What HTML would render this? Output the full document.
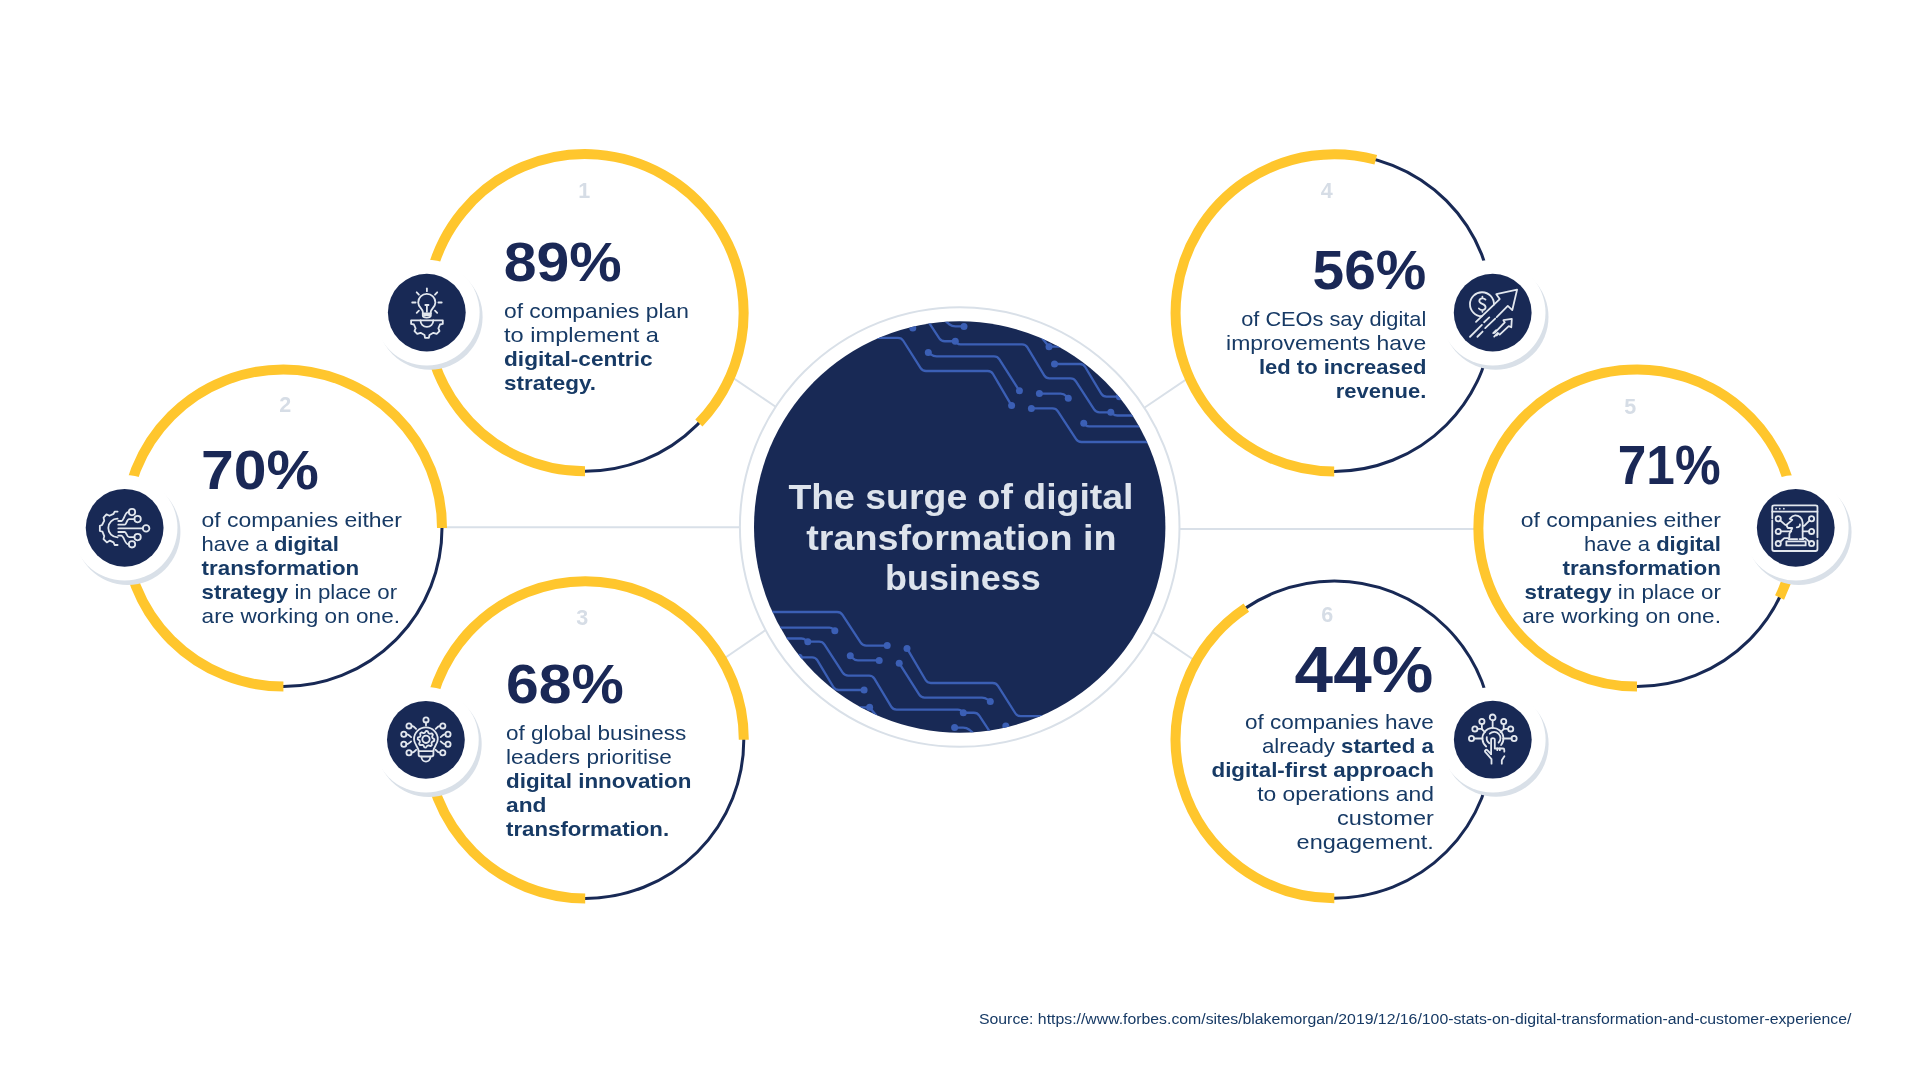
<!DOCTYPE html>
<html><head><meta charset="utf-8"><style>
html,body{margin:0;padding:0;background:#fff;width:1920px;height:1080px;overflow:hidden}
svg{display:block;font-family:"Liberation Sans",sans-serif;will-change:transform}
</style></head><body>
<svg width="1920" height="1080" viewBox="0 0 1920 1080">
<line x1="731" y1="376.5" x2="776" y2="407" stroke="#d9e0e8" stroke-width="2"/>
<line x1="440" y1="527.2" x2="741" y2="527.2" stroke="#d9e0e8" stroke-width="2"/>
<line x1="723" y1="659.3" x2="766" y2="629.8" stroke="#d9e0e8" stroke-width="2"/>
<line x1="1144" y1="408" x2="1189" y2="377.5" stroke="#d9e0e8" stroke-width="2"/>
<line x1="1179" y1="528.9" x2="1480" y2="528.9" stroke="#d9e0e8" stroke-width="2"/>
<line x1="1152" y1="631.7" x2="1195.5" y2="661" stroke="#d9e0e8" stroke-width="2"/>
<circle cx="959.7" cy="527" r="219.8" fill="#fff" stroke="#d9e0e8" stroke-width="2"/>
<circle cx="959.7" cy="527" r="205.7" fill="#182955"/>
<defs><clipPath id="cc"><circle cx="959.7" cy="527" r="205.7"/></clipPath></defs><g clip-path="url(#cc)"><g id="circ" fill="none" stroke="#3b5fb5" stroke-width="2.3" stroke-linejoin="round"><path d="M860.00 337.80 L897.90 337.80 Q901.40 337.80 903.28 340.75 L920.62 368.05 Q922.50 371.00 926.00 371.00 L987.75 371.00 Q991.25 371.00 993.02 374.02 L1011.60 405.60"/><path d="M928.30 352.50 L930.85 354.45 Q933.40 356.40 936.61 356.40 L994.00 356.40 Q997.50 356.40 999.38 359.35 L1019.40 390.80"/><path d="M920.00 309.00 L939.32 338.33 Q941.25 341.25 944.75 341.25 L953.09 341.25 Q955.30 341.25 956.85 342.82 L956.85 342.82 Q958.40 344.40 960.61 344.40 L1022.10 344.40 Q1025.60 344.40 1027.40 347.40 L1044.20 375.40 Q1046.00 378.40 1049.50 378.40 L1070.50 378.40 Q1074.00 378.40 1075.91 381.34 L1094.09 409.36 Q1096.00 412.30 1099.50 412.30 L1108.28 412.30 Q1110.80 412.30 1112.75 413.90 L1112.75 413.90 Q1114.70 415.50 1117.22 415.50 L1170.00 415.50"/><path d="M940.00 315.00 L943.67 319.09 Q946.00 321.70 948.76 323.86 L949.24 324.24 Q952.00 326.40 955.50 326.40 L964.00 326.40"/><path d="M1035.00 330.00 L1041.72 337.84 Q1044.00 340.50 1046.20 343.22 L1046.80 343.98 Q1049.00 346.70 1052.50 346.70 L1075.00 346.70"/><path d="M1054.50 364.00 L1079.90 364.00 Q1083.40 364.00 1085.20 367.00 L1101.20 393.70 Q1103.00 396.70 1106.50 396.70 L1115.90 396.70 Q1119.40 396.70 1122.90 396.70 L1170.00 396.70"/><path d="M1039.40 393.60 L1060.68 393.60 Q1063.90 393.60 1066.10 395.95 L1068.30 398.30"/><path d="M1031.40 408.40 L1052.50 408.40 Q1056.00 408.40 1057.92 411.33 L1076.08 439.07 Q1078.00 442.00 1081.50 442.00 L1170.00 442.00"/><path d="M1083.75 423.30 L1085.38 424.85 Q1087.00 426.40 1089.25 426.40 L1170.00 426.40"/></g><g id="circd" fill="#3b5fb5"><circle cx="1011.6" cy="405.6" r="3.5"/><circle cx="928.3" cy="352.5" r="3.5"/><circle cx="1019.4" cy="390.8" r="3.5"/><circle cx="955.3" cy="341.25" r="3.5"/><circle cx="1110.8" cy="412.3" r="3.5"/><circle cx="964" cy="326.4" r="3.5"/><circle cx="912.8" cy="328" r="3.5"/><circle cx="1049" cy="346.7" r="3.5"/><circle cx="1054.5" cy="364" r="3.5"/><circle cx="1119.4" cy="396.7" r="3.5"/><circle cx="1039.4" cy="393.6" r="3.5"/><circle cx="1068.3" cy="398.3" r="3.5"/><circle cx="1031.4" cy="408.4" r="3.5"/><circle cx="1083.75" cy="423.3" r="3.5"/></g><use href="#circ" transform="rotate(180 959.3 527)"/><use href="#circd" transform="rotate(180 959.3 527)"/></g>
<circle cx="585.0" cy="312.7" r="158.6" fill="#fff" stroke="#182955" stroke-width="3"/>
<path d="M585.00 471.30 A158.6 158.6 0 1 1 698.89 423.07" fill="none" stroke="#ffc62d" stroke-width="10"/>
<circle cx="283.4" cy="528.0" r="158.6" fill="#fff" stroke="#182955" stroke-width="3"/>
<path d="M283.40 686.60 A158.6 158.6 0 1 1 442.00 528.00" fill="none" stroke="#ffc62d" stroke-width="10"/>
<circle cx="585.2" cy="739.8" r="158.6" fill="#fff" stroke="#182955" stroke-width="3"/>
<path d="M585.20 898.40 A158.6 158.6 0 1 1 743.80 739.80" fill="none" stroke="#ffc62d" stroke-width="10"/>
<circle cx="1334.2" cy="312.8" r="158.6" fill="#fff" stroke="#182955" stroke-width="3"/>
<path d="M1334.20 471.40 A158.6 158.6 0 1 1 1375.78 159.75" fill="none" stroke="#ffc62d" stroke-width="10"/>
<circle cx="1637.0" cy="528.0" r="158.6" fill="#fff" stroke="#182955" stroke-width="3"/>
<path d="M1637.00 686.60 A158.6 158.6 0 1 1 1779.55 597.53" fill="none" stroke="#ffc62d" stroke-width="10"/>
<circle cx="1334.3" cy="739.6" r="158.6" fill="#fff" stroke="#182955" stroke-width="3"/>
<path d="M1334.30 898.20 A158.6 158.6 0 0 1 1246.30 607.65" fill="none" stroke="#ffc62d" stroke-width="10"/>
<circle cx="429.80" cy="316.90" r="52.8" fill="#d9e0e8"/>
<circle cx="426.80" cy="312.60" r="52.8" fill="#fff"/>
<circle cx="426.80" cy="312.60" r="38.9" fill="#182955"/>
<g transform="translate(426.80 312.60)" fill="none" stroke="#e2e7ee" stroke-width="1.8" stroke-linecap="round" stroke-linejoin="round"><path d="M0.1 -24.2 V-21.4"/><path d="M-10.1 -20.3 L-7.9 -17.9"/><path d="M10.4 -20.3 L8.2 -17.9"/><path d="M-14.6 -10.1 H-11.2"/><path d="M11.6 -10.1 H14.9"/><path d="M-10.1 0.2 L-7.9 -2"/><path d="M10.4 0.2 L8.2 -2"/><path d="M-4 -0.8 C-4 -3.5 -8.6 -5.5 -8.6 -10.2 A8.6 8.6 0 1 1 8.6 -10.2 C8.6 -5.5 4 -3.5 4 -0.8 V3.2 C4 5.5 -4 5.5 -4 3.2 Z"/><path d="M-4 0.8 H4"/><path d="M-3 2.4 H3"/><path d="M0.1 -0.8 V-7.6 M-1.5 -7.6 H1.7"/><path d="M-15.7 7.7 V11.3 L-12.9 11.9 L-11.2 15.8 L-12.3 18.6 L-9.6 21.3 L-6.2 20.2 L-2.3 22.4 L-1.8 25.2 H2.1 L2.7 22.4 L6.6 20.2 L9.9 21.3 L12.7 18.6 L11.6 15.8 L13.2 11.9 L16 11.3 V7.7 Z"/><path d="M-6.3 7.9 A6.4 6.4 0 0 0 6.5 7.9"/></g>
<circle cx="127.65" cy="532.10" r="52.8" fill="#d9e0e8"/>
<circle cx="124.65" cy="527.80" r="52.8" fill="#fff"/>
<circle cx="124.65" cy="527.80" r="38.9" fill="#182955"/>
<g transform="translate(124.65 527.80)" fill="none" stroke="#e2e7ee" stroke-width="1.8" stroke-linecap="round" stroke-linejoin="round"><path d="M-7.05 -16.2 H-10 L-11.1 -13.9 L-15.2 -12 L-18.2 -13.5 L-21.1 -10.2 L-20.4 -7.2 L-22.6 -2.8 L-24.8 -2 V3.2 L-22.2 3.9 L-20.4 8.3 L-21.1 11.3 L-17.8 14.6 L-14.8 12.8 L-11.1 14.6 L-10 17.2 H-7.05"/><path d="M-7.05 -9.1 A9.3 9.3 0 0 0 -7.05 9.5"/><path d="M-6.35 0.6 H18.1"/><path d="M-6.35 -3.1 H0 C2 -3.1 2 -8.7 4.5 -8.7 H9.7"/><path d="M-6.35 -6.8 H-3.5 C-0.5 -6.8 0 -15.7 3.5 -15.7 H4.1"/><path d="M-6.35 4.2 H0 C2 4.2 2 9.3 4.5 9.3 H9.7"/><path d="M-6.35 7.9 H-3.5 C-0.5 7.9 0 16.5 3.5 16.5 H4.1"/><circle cx="21.45" cy="0.6" r="3.3"/><circle cx="12.95" cy="-8.7" r="3.2"/><circle cx="7.35" cy="-15.7" r="3.2"/><circle cx="12.95" cy="9.3" r="3.2"/><circle cx="7.35" cy="16.5" r="3.2"/></g>
<circle cx="428.90" cy="744.10" r="52.8" fill="#d9e0e8"/>
<circle cx="425.90" cy="739.80" r="52.8" fill="#fff"/>
<circle cx="425.90" cy="739.80" r="38.9" fill="#182955"/>
<g transform="translate(425.90 739.80)" fill="none" stroke="#e2e7ee" stroke-width="1.8" stroke-linecap="round" stroke-linejoin="round"><path d="M-7.3 11.3 C-7.3 7 -11.9 4.5 -11.9 -0.5 A11.9 11.9 0 1 1 11.9 -0.5 C11.9 4.5 7.5 7 7.5 11.3"/><path d="M-7.3 11.3 H7.5 V15 C7.5 16.3 6.5 16.7 5 16.7 H-5 C-6.5 16.7 -7.3 16.3 -7.3 15 Z"/><path d="M-4.4 16.9 C-4.4 23.5 4.5 23.5 4.5 16.9"/><path d="M8.40 -0.50 L8.24 1.12 L6.20 2.03 L5.59 3.17 L5.97 5.37 L4.71 6.40 L2.63 5.60 L1.39 5.97 L0.10 7.80 L-1.52 7.64 L-2.43 5.60 L-3.57 4.99 L-5.77 5.37 L-6.80 4.11 L-6.00 2.03 L-6.37 0.79 L-8.20 -0.50 L-8.04 -2.12 L-6.00 -3.03 L-5.39 -4.17 L-5.77 -6.37 L-4.51 -7.40 L-2.43 -6.60 L-1.19 -6.97 L0.10 -8.80 L1.72 -8.64 L2.63 -6.60 L3.77 -5.99 L5.97 -6.37 L7.00 -5.11 L6.20 -3.03 L6.57 -1.79 Z"/><path d="M0.1 -14.3 V-17.3"/><path d="M-14.3 -13.9 C-12.5 -13.9 -11.5 -13 -9.8 -11"/><path d="M-19.5 -5.6 C-17.5 -5.6 -16.5 -4.5 -14.8 -2.7"/><path d="M-19.5 4.5 C-17.5 4.5 -16.5 3.2 -14.8 1.6"/><path d="M-14.3 12.9 C-12.5 12.9 -11.5 12 -9.8 10"/><path d="M14.3 -13.9 C12.5 -13.9 11.5 -13 9.8 -11"/><path d="M19.5 -5.6 C17.5 -5.6 16.5 -4.5 14.8 -2.7"/><path d="M19.5 4.5 C17.5 4.5 16.5 3.2 14.8 1.6"/><path d="M14.3 12.9 C12.5 12.9 11.5 12 9.8 10"/><circle cx="0.1" cy="-0.5" r="3.7"/><circle cx="0.1" cy="-19.9" r="2.6"/><circle cx="-16.9" cy="-13.9" r="2.6"/><circle cx="-22.1" cy="-5.6" r="2.6"/><circle cx="-22.1" cy="4.5" r="2.6"/><circle cx="-16.9" cy="12.9" r="2.6"/><circle cx="16.9" cy="-13.9" r="2.6"/><circle cx="22.1" cy="-5.6" r="2.6"/><circle cx="22.1" cy="4.5" r="2.6"/><circle cx="16.9" cy="12.9" r="2.6"/></g>
<circle cx="1495.70" cy="316.95" r="52.8" fill="#d9e0e8"/>
<circle cx="1492.70" cy="312.65" r="52.8" fill="#fff"/>
<circle cx="1492.70" cy="312.65" r="38.9" fill="#182955"/>
<g transform="translate(1492.70 312.65)" fill="none" stroke="#e2e7ee" stroke-width="1.8" stroke-linecap="round" stroke-linejoin="round"><path d="M1.26 -8.09 A12 12 0 1 0 -10.88 3.59"/><path d="M-7.2 -13 C-8 -14 -9 -14.2 -10.3 -14.2 C-12.2 -14.2 -13.4 -13.1 -13.4 -11.6 C-13.4 -8.2 -7.1 -9.2 -7.1 -5.3 C-7.1 -3.6 -8.4 -2.6 -10.3 -2.6 C-11.8 -2.6 -12.9 -3.1 -13.8 -4.2 M-10.3 -16 V-14.2 M-10.3 -2.6 V-0.8"/><path d="M-16.7 9.2 L7 -13.6 L3.6 -18.5 L24.4 -23 L19.6 -2.6 L15.1 -6.7 L4 4.4"/><path d="M-22.7 24.1 L-10.8 12.2"/><path d="M-15.3 24.1 L-10.1 18.9"/><path d="M-7.5 15.5 L2.5 5.9"/><path d="M-8.6 9.6 L-3.4 4.8"/><path d="M1.9 20.2 L12.1 9.75 L10.7 7.55 L19.1 6.3 L18.6 14.6 L16.05 13.5 L7 22"/><path d="M1.5 23.9 L4.9 20.4"/><path d="M0.5 20.5 L3.5 17.5"/><path d="M4 22.8 L6 20.8"/></g>
<circle cx="1798.75" cy="532.10" r="52.8" fill="#d9e0e8"/>
<circle cx="1795.75" cy="527.80" r="52.8" fill="#fff"/>
<circle cx="1795.75" cy="527.80" r="38.9" fill="#182955"/>
<g transform="translate(1795.75 527.80)" fill="none" stroke="#e2e7ee" stroke-width="1.8" stroke-linecap="round" stroke-linejoin="round"><path d="M-23.5 -9.5 V-20.9 C-23.5 -22 -22.6 -22.4 -21.5 -22.4 H19.7 C20.8 -22.4 21.7 -22 21.7 -20.9 V9.5"/><path d="M21.7 12.5 V21.2 C21.7 22.3 20.8 23.2 19.7 23.2 H-21.5 C-22.6 23.2 -23.5 22.3 -23.5 21.2 V-7.5"/><path d="M-23.5 -16.1 H21.7"/><path d="M-6.4 9.8 V6.1 L-3.45 0.2 H-7.9 L-9.4 -2.8 L-3.45 -7.95 L-6.05 -9.06 C-4 -11.5 -2.5 -12.4 -0.5 -12.4 C3 -12.4 6.9 -10 6.9 -5 V9.8"/><path d="M4.2 -3.5 C4.5 -1.5 3 -0.5 1 -0.5"/><path d="M-7.2 11.3 H1.5 M3.8 11.3 H7.7"/><path d="M-9.4 13.5 H9.9 V17.6 H-9.4 Z"/><path d="M-15.6 -7.5 L-10.5 -3 L-8.8 -3"/><path d="M-14.9 3.6 H-4.5"/><path d="M-15.6 14.2 L-11.5 10.3 H-7.2"/><path d="M13.9 -7.5 L8.5 -2 H7"/><path d="M13.2 3.6 H7"/><path d="M13.9 14.2 L9.5 10.3 H7"/><circle cx="-17.5" cy="-9.1" r="2.6"/><circle cx="-17.5" cy="3.6" r="2.6"/><circle cx="-17.5" cy="15.8" r="2.6"/><circle cx="15.8" cy="-9.1" r="2.6"/><circle cx="15.8" cy="3.6" r="2.6"/><circle cx="15.8" cy="15.8" r="2.6"/><g fill="#e2e7ee" stroke="none"><circle cx="-19.7" cy="-19.1" r="0.9"/><circle cx="-16" cy="-19.1" r="0.9"/><circle cx="-11.9" cy="-19.1" r="0.9"/></g></g>
<circle cx="1495.80" cy="744.00" r="52.8" fill="#d9e0e8"/>
<circle cx="1492.80" cy="739.70" r="52.8" fill="#fff"/>
<circle cx="1492.80" cy="739.70" r="38.9" fill="#182955"/>
<g transform="translate(1492.80 739.70)" fill="none" stroke="#e2e7ee" stroke-width="1.8" stroke-linecap="round" stroke-linejoin="round"><path d="M-6.6 6.8 A10.5 10.5 0 1 1 8.3 5.3"/><path d="M-3 -6 A6.1 6.1 0 0 1 5.8 3"/><path d="M-6 -2.5 A6.1 6.1 0 0 0 -3.5 3.5"/><path d="M-1.7 14.5 V-0.2 C-1.7 -2 2 -2 2 -0.2 V8.8 H10.3 C11 8.8 11.5 9.5 11.5 10.3 V12"/><path d="M4.5 8.8 V10.5 M7 8.8 V10.5"/><path d="M-1.7 14.5 L-5.5 10.5 C-6.5 9.5 -8.3 10.5 -7.8 12 L-1.3 19.5 V24"/><path d="M11.6 16.5 L9 20.5 V24"/><path d="M-0.15 -19.5 V-11.8"/><path d="M-10.9 -15.6 V-10.5 L-7.8 -7.5"/><path d="M-15.3 -10.8 H-10.9"/><path d="M-18.8 -1.2 H-10.4"/><path d="M10.9 -15.6 V-10.5 L7.8 -7.5"/><path d="M15.3 -10.8 H10.9"/><path d="M18.8 -1.2 H10.4"/><circle cx="-0.15" cy="-22.3" r="2.9"/><circle cx="-10.9" cy="-18.2" r="2.6"/><circle cx="-17.9" cy="-10.8" r="2.6"/><circle cx="-21.3" cy="-1.2" r="2.6"/><circle cx="10.9" cy="-18.2" r="2.6"/><circle cx="17.9" cy="-10.8" r="2.6"/><circle cx="21.3" cy="-1.2" r="2.6"/></g>
<text x="584.3" y="197.8" font-size="21.5" text-anchor="middle" font-weight="bold" fill="#d6dde6">1</text>
<text x="285.3" y="411.7" font-size="21.5" text-anchor="middle" font-weight="bold" fill="#d6dde6">2</text>
<text x="582.3" y="624.8" font-size="21.5" text-anchor="middle" font-weight="bold" fill="#d6dde6">3</text>
<text x="1326.8" y="197.8" font-size="21.5" text-anchor="middle" font-weight="bold" fill="#d6dde6">4</text>
<text x="1630.3" y="413.9" font-size="21.5" text-anchor="middle" font-weight="bold" fill="#d6dde6">5</text>
<text x="1327.3" y="621.9" font-size="21.5" text-anchor="middle" font-weight="bold" fill="#d6dde6">6</text>
<text x="503.7" y="281.0" font-size="55.3" text-anchor="start" font-weight="bold" fill="#1a2856" textLength="118.0" lengthAdjust="spacingAndGlyphs">89%</text>
<text x="201.1" y="489.2" font-size="54.6" text-anchor="start" font-weight="bold" fill="#1a2856" textLength="117.8" lengthAdjust="spacingAndGlyphs">70%</text>
<text x="506.1" y="703.1" font-size="55.3" text-anchor="start" font-weight="bold" fill="#1a2856" textLength="117.8" lengthAdjust="spacingAndGlyphs">68%</text>
<text x="1312.6" y="288.8" font-size="55.3" text-anchor="start" font-weight="bold" fill="#1a2856" textLength="113.7" lengthAdjust="spacingAndGlyphs">56%</text>
<text x="1617.8" y="483.9" font-size="54.6" text-anchor="start" font-weight="bold" fill="#1a2856" textLength="102.8" lengthAdjust="spacingAndGlyphs">71%</text>
<text x="1294.6" y="692.0" font-size="64.2" text-anchor="start" font-weight="bold" fill="#1a2856" textLength="138.7" lengthAdjust="spacingAndGlyphs">44%</text>
<text x="504" y="317.9" font-size="20.6" text-anchor="start" font-weight="normal" fill="#173a65" textLength="184.9" lengthAdjust="spacingAndGlyphs">of companies plan</text>
<text x="504" y="341.9" font-size="20.6" text-anchor="start" font-weight="normal" fill="#173a65" textLength="154.9" lengthAdjust="spacingAndGlyphs">to implement a</text>
<text x="504" y="365.9" font-size="20.6" text-anchor="start" font-weight="normal" fill="#173a65" textLength="148.6" lengthAdjust="spacingAndGlyphs"><tspan font-weight="bold">digital-centric</tspan></text>
<text x="504" y="389.9" font-size="20.6" text-anchor="start" font-weight="normal" fill="#173a65" textLength="92.0" lengthAdjust="spacingAndGlyphs"><tspan font-weight="bold">strategy.</tspan></text>
<text x="201.6" y="527.4" font-size="20.6" text-anchor="start" font-weight="normal" fill="#173a65" textLength="200.4" lengthAdjust="spacingAndGlyphs">of companies either</text>
<text x="201.6" y="551.4" font-size="20.6" text-anchor="start" font-weight="normal" fill="#173a65" textLength="137.2" lengthAdjust="spacingAndGlyphs">have a <tspan font-weight="bold">digital</tspan></text>
<text x="201.6" y="575.4" font-size="20.6" text-anchor="start" font-weight="normal" fill="#173a65" textLength="157.6" lengthAdjust="spacingAndGlyphs"><tspan font-weight="bold">transformation</tspan></text>
<text x="201.6" y="599.4" font-size="20.6" text-anchor="start" font-weight="normal" fill="#173a65" textLength="195.5" lengthAdjust="spacingAndGlyphs"><tspan font-weight="bold">strategy</tspan> in place or</text>
<text x="201.6" y="623.4" font-size="20.6" text-anchor="start" font-weight="normal" fill="#173a65" textLength="198.4" lengthAdjust="spacingAndGlyphs">are working on one.</text>
<text x="506" y="739.8" font-size="20.6" text-anchor="start" font-weight="normal" fill="#173a65" textLength="180.4" lengthAdjust="spacingAndGlyphs">of global business</text>
<text x="506" y="763.8" font-size="20.6" text-anchor="start" font-weight="normal" fill="#173a65" textLength="165.9" lengthAdjust="spacingAndGlyphs">leaders prioritise</text>
<text x="506" y="787.8" font-size="20.6" text-anchor="start" font-weight="normal" fill="#173a65" textLength="185.4" lengthAdjust="spacingAndGlyphs"><tspan font-weight="bold">digital innovation</tspan></text>
<text x="506" y="811.8" font-size="20.6" text-anchor="start" font-weight="normal" fill="#173a65" textLength="40.4" lengthAdjust="spacingAndGlyphs"><tspan font-weight="bold">and</tspan></text>
<text x="506" y="835.8" font-size="20.6" text-anchor="start" font-weight="normal" fill="#173a65" textLength="163.1" lengthAdjust="spacingAndGlyphs"><tspan font-weight="bold">transformation.</tspan></text>
<text x="1426.3" y="326.0" font-size="20.6" text-anchor="end" font-weight="normal" fill="#173a65" textLength="185.1" lengthAdjust="spacingAndGlyphs">of CEOs say digital</text>
<text x="1426.3" y="350.0" font-size="20.6" text-anchor="end" font-weight="normal" fill="#173a65" textLength="200.2" lengthAdjust="spacingAndGlyphs">improvements have</text>
<text x="1426.3" y="374.0" font-size="20.6" text-anchor="end" font-weight="normal" fill="#173a65" textLength="167.3" lengthAdjust="spacingAndGlyphs"><tspan font-weight="bold">led to increased</tspan></text>
<text x="1426.3" y="398.0" font-size="20.6" text-anchor="end" font-weight="normal" fill="#173a65" textLength="90.5" lengthAdjust="spacingAndGlyphs"><tspan font-weight="bold">revenue.</tspan></text>
<text x="1721" y="526.7" font-size="20.6" text-anchor="end" font-weight="normal" fill="#173a65" textLength="200.3" lengthAdjust="spacingAndGlyphs">of companies either</text>
<text x="1721" y="550.7" font-size="20.6" text-anchor="end" font-weight="normal" fill="#173a65" textLength="137.1" lengthAdjust="spacingAndGlyphs">have a <tspan font-weight="bold">digital</tspan></text>
<text x="1721" y="574.7" font-size="20.6" text-anchor="end" font-weight="normal" fill="#173a65" textLength="158.5" lengthAdjust="spacingAndGlyphs"><tspan font-weight="bold">transformation</tspan></text>
<text x="1721" y="598.7" font-size="20.6" text-anchor="end" font-weight="normal" fill="#173a65" textLength="196.4" lengthAdjust="spacingAndGlyphs"><tspan font-weight="bold">strategy</tspan> in place or</text>
<text x="1721" y="622.7" font-size="20.6" text-anchor="end" font-weight="normal" fill="#173a65" textLength="198.8" lengthAdjust="spacingAndGlyphs">are working on one.</text>
<text x="1433.9" y="728.7" font-size="20.6" text-anchor="end" font-weight="normal" fill="#173a65" textLength="189.0" lengthAdjust="spacingAndGlyphs">of companies have</text>
<text x="1433.9" y="752.7" font-size="20.6" text-anchor="end" font-weight="normal" fill="#173a65" textLength="172.0" lengthAdjust="spacingAndGlyphs">already <tspan font-weight="bold">started a</tspan></text>
<text x="1433.9" y="776.7" font-size="20.6" text-anchor="end" font-weight="normal" fill="#173a65" textLength="222.4" lengthAdjust="spacingAndGlyphs"><tspan font-weight="bold">digital-first approach</tspan></text>
<text x="1433.9" y="800.7" font-size="20.6" text-anchor="end" font-weight="normal" fill="#173a65" textLength="176.7" lengthAdjust="spacingAndGlyphs">to operations and</text>
<text x="1433.9" y="824.7" font-size="20.6" text-anchor="end" font-weight="normal" fill="#173a65" textLength="96.8" lengthAdjust="spacingAndGlyphs">customer</text>
<text x="1433.9" y="848.7" font-size="20.6" text-anchor="end" font-weight="normal" fill="#173a65" textLength="137.3" lengthAdjust="spacingAndGlyphs">engagement.</text>
<text x="788.4" y="509.4" font-size="35.3" text-anchor="start" font-weight="bold" fill="#dde3ec" textLength="345.1" lengthAdjust="spacingAndGlyphs">The surge of digital</text>
<text x="806.2" y="549.7" font-size="35.3" text-anchor="start" font-weight="bold" fill="#dde3ec" textLength="310.4" lengthAdjust="spacingAndGlyphs">transformation in</text>
<text x="885" y="590" font-size="35.3" text-anchor="start" font-weight="bold" fill="#dde3ec" textLength="155.7" lengthAdjust="spacingAndGlyphs">business</text>
<text x="979" y="1023.75" font-size="14.9" text-anchor="start" font-weight="normal" fill="#173a65" textLength="872.4" lengthAdjust="spacingAndGlyphs">Source: https://www.forbes.com/sites/blakemorgan/2019/12/16/100-stats-on-digital-transformation-and-customer-experience/</text>
</svg>
</body></html>
